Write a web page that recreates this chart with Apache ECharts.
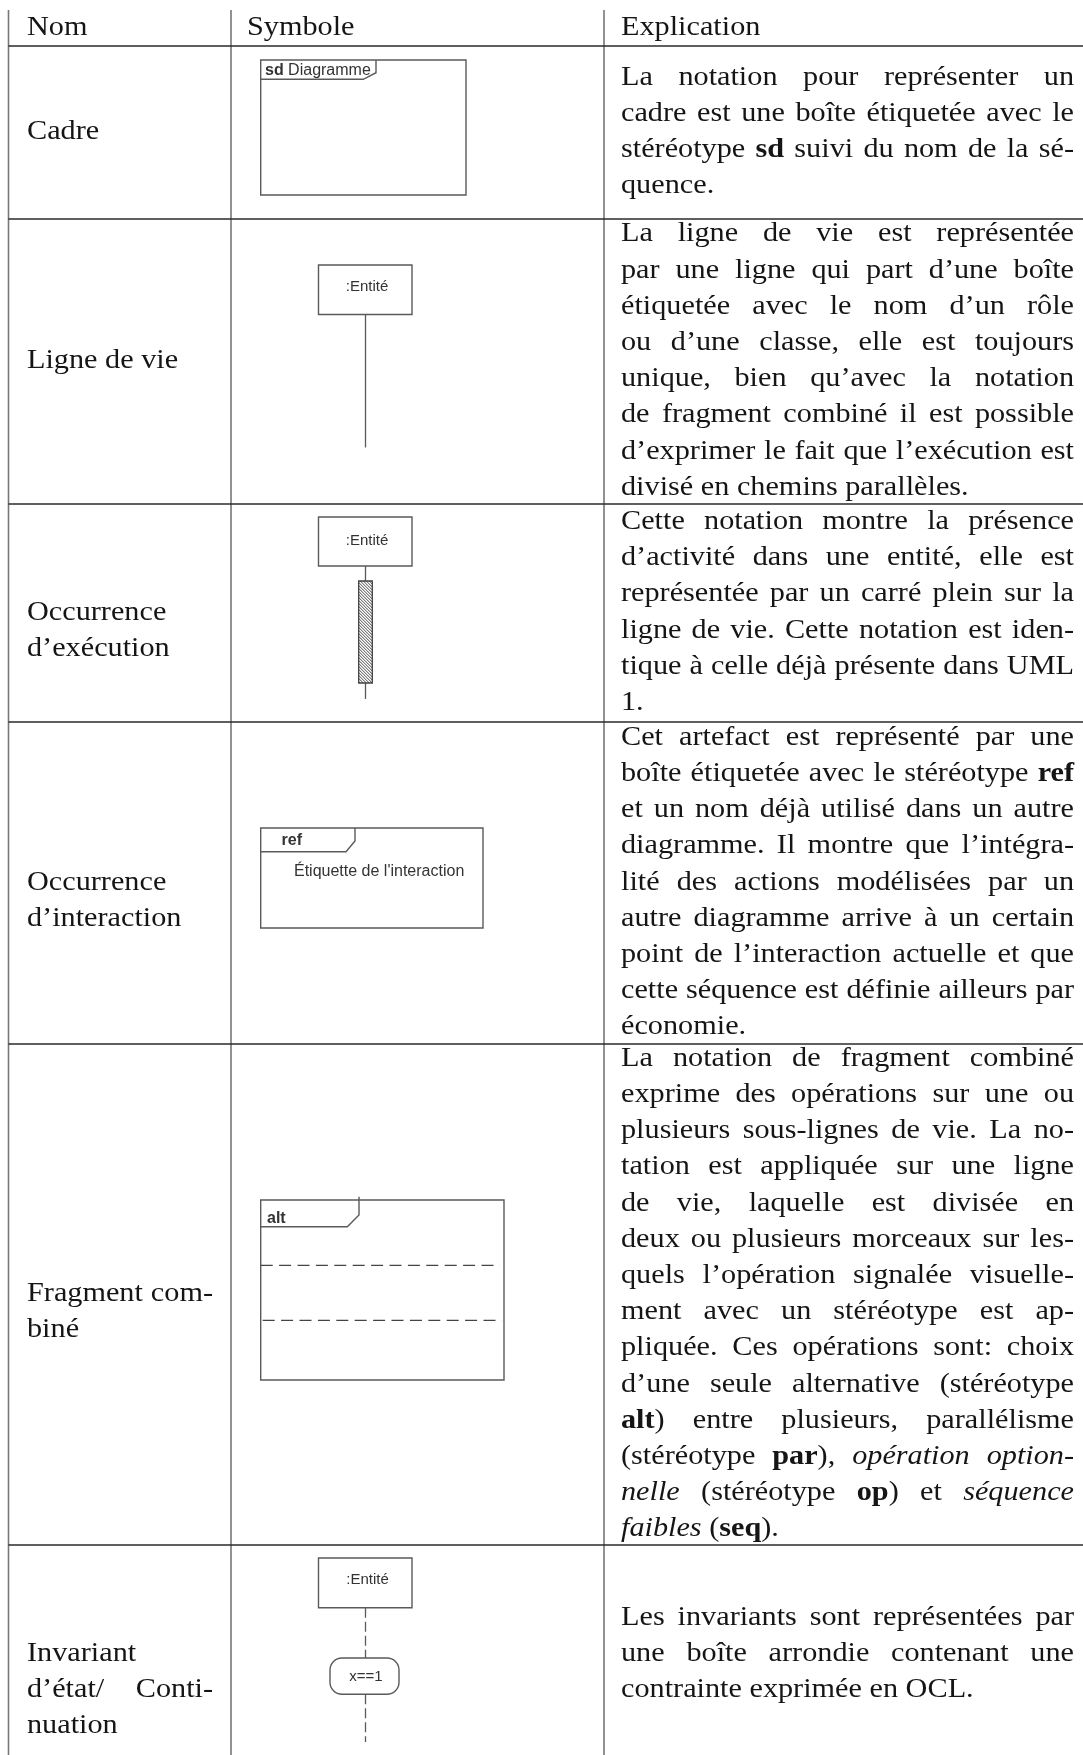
<!DOCTYPE html>
<html><head><meta charset="utf-8">
<script src="https://cdn.jsdelivr.net/npm/echarts@6/dist/echarts.min.js"></script>
<style>html,body{margin:0;padding:0;background:#fff}#c{width:1083px;height:1755px}</style>
</head><body><div id="c"></div>
<script>
// ---------- DATA ----------
const headers = ['Nom', 'Symbole', 'Explication'];
const names = [
  ['Cadre'],
  ['Ligne de vie'],
  ['Occurrence', 'd’exécution'],
  ['Occurrence', 'd’interaction'],
  ['Fragment com-', 'biné'],
  ['Invariant', 'd’état/ Conti-', 'nuation']
];
const explanations = [
  ['La notation pour représenter un',
   'cadre est une boîte étiquetée avec le',
   'stéréotype **sd** suivi du nom de la sé-',
   'quence.'],
  ['La ligne de vie est représentée',
   'par une ligne qui part d’une boîte',
   'étiquetée avec le nom d’un rôle',
   'ou d’une classe, elle est toujours',
   'unique, bien qu’avec la notation',
   'de fragment combiné il est possible',
   'd’exprimer le fait que l’exécution est',
   'divisé en chemins parallèles.'],
  ['Cette notation montre la présence',
   'd’activité dans une entité, elle est',
   'représentée par un carré plein sur la',
   'ligne de vie. Cette notation est iden-',
   'tique à celle déjà présente dans UML',
   '1.'],
  ['Cet artefact est représenté par une',
   'boîte étiquetée avec le stéréotype **ref**',
   'et un nom déjà utilisé dans un autre',
   'diagramme. Il montre que l’intégra-',
   'lité des actions modélisées par un',
   'autre diagramme arrive à un certain',
   'point de l’interaction actuelle et que',
   'cette séquence est définie ailleurs par',
   'économie.'],
  ['La notation de fragment combiné',
   'exprime des opérations sur une ou',
   'plusieurs sous-lignes de vie. La no-',
   'tation est appliquée sur une ligne',
   'de vie, laquelle est divisée en',
   'deux ou plusieurs morceaux sur les-',
   'quels l’opération signalée visuelle-',
   'ment avec un stéréotype est ap-',
   'pliquée. Ces opérations sont: choix',
   'd’une seule alternative (stéréotype',
   '**alt**) entre plusieurs, parallélisme',
   '(stéréotype **par**), *opération option-*',
   '*nelle* (stéréotype **op**) et *séquence*',
   '*faibles* (**seq**).'],
  ['Les invariants sont représentées par',
   'une boîte arrondie contenant une',
   'contrainte exprimée en OCL.']
];
const frameKeyword = 'sd';
const frameName = 'Diagramme';
const entityLabel = ':Entité';
const refKeyword = 'ref';
const refName = 'Étiquette de l\'interaction';
const altKeyword = 'alt';
const guardLabel = 'x==1';

// ---------- LAYOUT ----------
const W = 1083, H = 1755;
const colX = [8.5, 231, 604];
const rowY = [10, 46, 219, 504, 722, 1044, 1545, 1764];
const nameX = 27, nameW = 186;
const explX = 621, explW = 453;
const symX = 247;
const PITCH = 36.2;
const FS = 27, STRETCH = 1.12;
const SERIF = "'Liberation Serif','Times New Roman',serif";
const SANS = "'Liberation Sans',Arial,sans-serif";
const TXT = '#151515';
const SYM = '#5a5a5a', SYMTXT = '#333';

const els = [];
const ctx = document.createElement('canvas').getContext('2d');
function fontOf(r) { return (r.i ? 'italic ' : '') + (r.b ? 'bold ' : '') + FS + 'px ' + SERIF; }
function parse(line) {
  let b = false, i = false, words = [], cur = [], buf = '';
  const flush = () => { if (buf) { cur.push({ t: buf, b, i }); buf = ''; } };
  for (let k = 0; k < line.length; k++) {
    const ch = line[k];
    if (ch === '*' && line[k + 1] === '*') { flush(); b = !b; k++; continue; }
    if (ch === '*') { flush(); i = !i; continue; }
    if (ch === ' ') { flush(); if (cur.length) words.push(cur); cur = []; continue; }
    buf += ch;
  }
  flush(); if (cur.length) words.push(cur);
  return words;
}
function measure(r) { ctx.font = fontOf(r); return ctx.measureText(r.t).width; }
function addLine(line, x0, width, yc, justify) {
  const words = parse(line);
  ctx.font = fontOf({});
  const space = ctx.measureText(' ').width;
  const nat = words.map(w => w.reduce((s, r) => s + measure(r), 0));
  const natTotal = nat.reduce((a, b) => a + b, 0);
  let st = STRETCH, gap = space * STRETCH;
  if (justify && words.length > 1) {
    const minGap = space * 0.6;
    gap = (width - natTotal * st) / (words.length - 1);
    if (gap < minGap) { st = (width - minGap * (words.length - 1)) / natTotal; gap = minGap; }
  }
  let x = x0;
  const y = yc + 2.5;
  words.forEach((w, k) => {
    let xx = x;
    w.forEach(r => {
      els.push({ type: 'text', x: xx, y: y, scaleX: st, silent: true,
        style: { text: r.t, font: fontOf(r), fill: TXT, textAlign: 'left', textVerticalAlign: 'middle', verticalAlign: 'middle' } });
      xx += measure(r) * st;
    });
    x += nat[k] * st + gap;
  });
}
function addPara(lines, x0, width, firstY) {
  lines.forEach((ln, i) => {
    const last = i === lines.length - 1;
    addLine(ln, x0, width, firstY + i * PITCH, !last);
  });
}
function line(x1, y1, x2, y2, stroke, lw, dash) {
  els.push({ type: 'line', silent: true, shape: { x1, y1, x2, y2 },
    style: { stroke, lineWidth: lw, lineDash: dash || null } });
}
function rect(x, y, w, h, r) {
  els.push({ type: 'rect', silent: true, shape: { x, y, width: w, height: h, r: r || 0 },
    style: { fill: '#fff', stroke: SYM, lineWidth: 1.4 } });
}
function poly(points) {
  els.push({ type: 'polyline', silent: true, shape: { points }, style: { stroke: SYM, lineWidth: 1.4, fill: null } });
}
function sans(text, x, y, align, bold, size) {
  els.push({ type: 'text', silent: true, x, y,
    style: { text, font: (bold ? 'bold ' : '') + (size || 15) + 'px ' + SANS, fill: SYMTXT, textAlign: align, textVerticalAlign: 'middle', verticalAlign: 'middle' } });
}

// ---------- TABLE GRID ----------
colX.forEach(x => line(x, rowY[0], x, H, '#777', 1.6));
rowY.slice(1, -1).forEach(y => line(colX[0], y, W, y, '#2a2a2a', 1.7));

// ---------- HEADERS ----------
const hc = (rowY[0] + rowY[1]) / 2 - 3;
addLine(headers[0], nameX, nameW, hc, false);
addLine(headers[1], symX, 300, hc, false);
addLine(headers[2], explX, explW, hc, false);

// ---------- CELLS ----------
for (let r = 0; r < names.length; r++) {
  const top = rowY[r + 1], bot = rowY[r + 2];
  const c = (top + bot) / 2 - 3;
  addPara(names[r], nameX, nameW, c);
  const n = explanations[r].length;
  addPara(explanations[r], explX, explW, c - (n - 1) / 2 * PITCH);
}

// ---------- SYMBOLS ----------
// Cadre (sd frame)
rect(260.7, 60, 205.3, 135);
poly([[260.7, 79.3], [363.3, 79.3], [376, 72.7], [376, 60]]);
els.push({ type: 'text', silent: true, x: 265, y: 70.5,
  style: { text: '{b|' + frameKeyword + '} ' + frameName, font: '16px ' + SANS, fill: SYMTXT,
    textVerticalAlign: 'middle', verticalAlign: 'middle',
    rich: { b: { font: 'bold 16px ' + SANS, fill: SYMTXT } } } });

// Ligne de vie
rect(318.5, 265, 93.5, 49.5);
sans(entityLabel, 367, 287, 'center');
line(365.5, 314.5, 365.5, 447.5, SYM, 1.3);

// Occurrence d'exécution
rect(318.5, 517, 93.5, 49);
sans(entityLabel, 367, 541, 'center');
line(365.5, 566, 365.5, 699, SYM, 1.3);
(function () {
  const L = 358.7, T = 581, BW = 13.6, BH = 102, R = L + BW, B = T + BH;
  els.push({ type: 'rect', silent: true, shape: { x: L, y: T, width: BW, height: BH },
    style: { fill: '#fff', stroke: '#444', lineWidth: 1.3 } });
  for (let cc = T - BW; cc < B; cc += 3) {
    const xs = L + Math.max(0, T - cc), xe = L + Math.min(BW, B - cc);
    if (xe > xs) line(xs, cc + (xs - L), xe, cc + (xe - L), '#333', 0.9);
  }
})();

// Occurrence d'interaction (ref)
rect(260.7, 828, 222.3, 100);
poly([[260.7, 851.7], [346, 851.7], [355, 841], [355, 828]]);
sans(refKeyword, 281.5, 841, 'left', true, 16);
sans(refName, 294, 872, 'left', false, 16);

// Fragment combiné (alt)
rect(260.7, 1200, 243.3, 180);
poly([[260.7, 1226.7], [347.3, 1226.7], [359, 1215], [359, 1196.7]]);
sans(altKeyword, 267, 1218.5, 'left', true, 16);
line(260.7, 1265.3, 500, 1265.3, '#444', 1.2, [12, 6.4]);
line(262.7, 1320.3, 502, 1320.3, '#444', 1.2, [12, 6.4]);

// Invariant d'état / Continuation
rect(318.5, 1558, 93.5, 49.7);
sans(entityLabel, 367.5, 1580, 'center');
line(365.5, 1607.7, 365.5, 1658, SYM, 1.3, [10, 4]);
rect(330, 1658, 69, 36.3, 12);
sans(guardLabel, 366, 1676.5, 'center');
line(365.5, 1694.3, 365.5, 1742, SYM, 1.3, [10, 4]);

const chart = echarts.init(document.getElementById('c'), null, { renderer: 'canvas', width: W, height: H });
chart.setOption({ animation: false, backgroundColor: '#fff', graphic: { elements: els } });
</script></body></html>
